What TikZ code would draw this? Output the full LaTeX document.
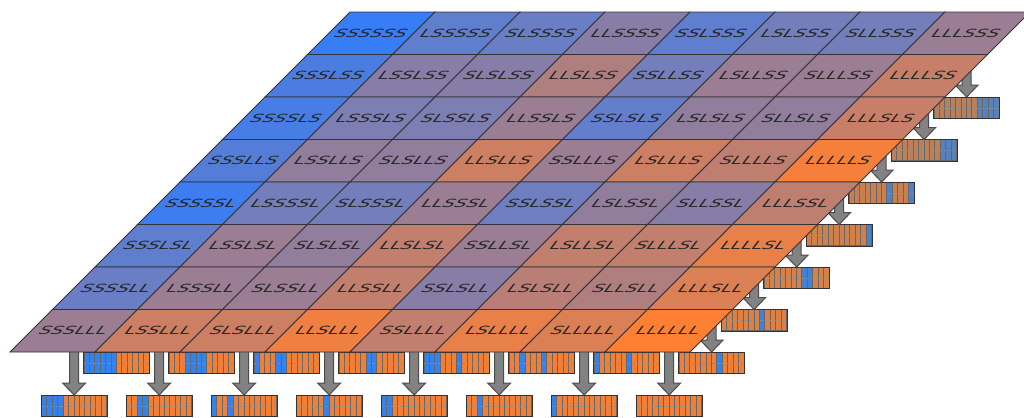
\documentclass[tikz,border=0pt]{standalone}
\usepackage{fontspec}
\newfontfamily\cellfont{DejaVu Sans}
\usepackage{tikz}
\definecolor{cellblue}{RGB}{55,125,245}
\definecolor{cellorange}{RGB}{255,128,50}
\definecolor{binb}{RGB}{50,130,240}
\definecolor{bino}{RGB}{240,128,55}
\definecolor{arrowgray}{RGB}{130,130,130}
\definecolor{edgegray}{RGB}{50,50,55}
\usetikzlibrary{calc,backgrounds}

\tikzset{
  celltext/.style={font=\cellfont\fontsize{9.4}{10}\selectfont, text=black!85, inner sep=0pt, xslant=0.75, yscale=0.6},
  binbox/.style={anchor=north west, minimum width=32.5pt, minimum height=10.5pt, inner sep=0pt},
  blockarr/.style={fill=arrowgray, draw=black!70, line width=0.5pt},
}

% one output bin: name, left, top, strength, pattern
\newcommand{\binarray}[5]{%
  \node[binbox] (#1) at (#2,#3) {};
  \edef\binpat{#5}%
  \foreach \bc [count=\k from 0] in \binpat
    \fill[fill=bin\bc!#4!gray, draw=black!60, line width=0.25pt]
      ($(#1.north west)+(\k*65/12,0)$) rectangle ++(65/12,21);
  \draw[black!45, line width=0.2pt, dash pattern=on 1.2pt off 1.2pt] (#1.west) -- (#1.east);
  \draw[edgegray, line width=0.45pt] (#1.north west) rectangle (#1.south east);
}
% fat gray arrow from a cell down to a bin
\newcommand{\blockarrow}[2]{%
  \filldraw[blockarr] ($(#2 |- #1)+(-4.5,-20)$) -- ($(#2)+(-4.5,-12)$) -- ($(#2)+(-11.5,-12)$) -- (#2)
    -- ($(#2)+(11.5,-12)$) -- ($(#2)+(4.5,-12)$) -- ($(#2 |- #1)+(4.5,-20)$) -- cycle;
}

\begin{document}
\begin{tikzpicture}[x=0.5pt, y=-0.5pt]
\useasboundingbox (0,0) rectangle (1024,418);
% the slanted grid of patterns
\foreach \ri/\rowp/\mix in {0/SSS/{0,20,25,40,20,30,30,50},
                            1/LSS/{10,40,40,60,30,50,50,72},
                            2/SLS/{8,35,35,50,22,45,45,72},
                            3/LLS/{15,45,45,75,50,75,68,95},
                            4/SSL/{3,30,30,50,28,45,40,68},
                            5/LSL/{20,50,45,70,50,70,70,88},
                            6/SLL/{25,50,50,70,40,65,60,82},
                            7/LLL/{50,75,75,92,70,88,82,100}}{
  \foreach \ci/\colp in {0/SSS,1/LSS,2/SLS,3/LLS,4/SSL,5/LSL,6/SLL,7/LLL}{
    \pgfmathsetmacro\xa{350-42.5*\ri+85*\ci}
    \pgfmathsetmacro\ya{12+42.5*\ri}
    \pgfmathtruncatemacro\mixval{{\mix}[\ci]}
    \fill[cellorange!\mixval!cellblue, draw=edgegray, line width=0.4pt]
      (\xa,\ya) -- ++(85,0) -- ++(-42.5,42.5) -- ++(-85,0) -- cycle;
    \node[celltext] (c-\ri-\ci) at (\xa+21.25,\ya+21.25) {\colp\rowp};
  }
}

\begin{scope}[on background layer]
% bins under the bottom row
\foreach \ci/\pat in {0/{b,b,b,b,o,o,o,o,o,o,o,o}, 1/{o,o,b,b,o,o,o,o,o,o,o,o},
                      2/{b,o,o,b,o,o,o,o,o,o,o,o}, 3/{o,o,o,o,o,b,o,o,o,o,o,o},
                      4/{b,b,o,o,o,o,o,o,o,o,o,o}, 5/{o,o,b,o,o,o,o,o,o,o,o,o},
                      6/{b,o,o,o,o,o,o,o,o,o,o,o}, 7/{o,o,o,o,o,o,o,o,o,o,o,o}}{
  \binarray{lo-\ci}{41.25+85*\ci}{395}{100}{\pat}
  \blockarrow{c-7-\ci}{lo-\ci.north}
}
% bins peeking out below the bottom edge
\foreach \ci/\pat in {0/{b,b,b,b,b,b,o,o,o,o,o,o}, 1/{o,o,o,b,b,b,b,o,o,o,o,o},
                      2/{b,o,o,o,b,b,o,o,o,o,o,o}, 3/{o,o,o,o,o,b,b,o,o,o,o,o},
                      4/{b,b,b,o,o,o,b,o,o,o,o,o}, 5/{o,o,b,o,o,o,b,o,o,o,o,o},
                      6/{b,o,o,o,o,o,b,o,o,o,o,o}}{
  \binarray{up-\ci}{83.75+85*\ci}{352}{100}{\pat}
}
% bins along the right edge
\foreach \ri/\pat/\m in {1/{o,o,o,o,o,o,o,o,b,b,b,b}/50, 2/{o,o,o,o,o,o,o,o,o,b,b,b}/55,
                         3/{o,o,o,o,o,o,o,b,o,o,o,b}/65, 4/{o,o,o,o,o,o,o,o,o,o,o,b}/70,
                         5/{o,o,o,o,o,o,o,b,b,o,o,o}/78, 6/{o,o,o,o,o,o,o,b,o,o,o,o}/85,
                         7/{o,o,o,o,o,o,o,b,o,o,o,o}/95}{
  \binarray{ri-\ri}{976.25-42.5*\ri}{54.5+42.5*\ri}{\m}{\pat}
  \blockarrow{c-\ri-7}{ri-\ri.north}
}
\end{scope}
\end{tikzpicture}
\end{document}
